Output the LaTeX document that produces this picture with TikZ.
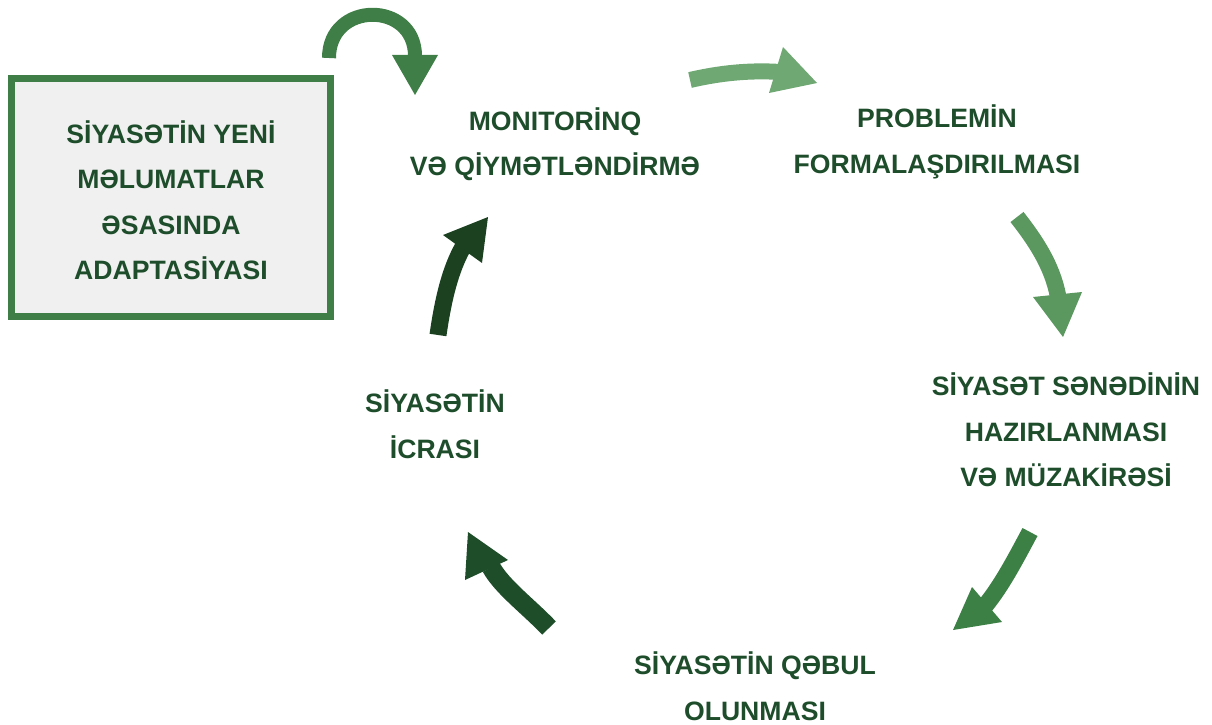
\documentclass[tikz,border=0pt]{standalone}
\usepackage{fontspec}
\setmainfont{Liberation Sans}
\begin{document}
\begin{tikzpicture}[x=1pt,y=-1pt,
  lbl/.style={align=center,text=txtgreen,font=\bfseries\fontsize{26.6}{45.5}\selectfont,inner sep=0pt},
  band/.style={line width=#1,line cap=butt},
]
\definecolor{txtgreen}{HTML}{1E4D2B}
\definecolor{boxgreen}{HTML}{3F7F47}
\definecolor{boxfill}{HTML}{F0F0F0}
\definecolor{arA}{HTML}{3F7F47}
\definecolor{arB}{HTML}{6FA873}
\definecolor{arC}{HTML}{5A985F}
\definecolor{arD}{HTML}{3D8046}
\definecolor{arE}{HTML}{1E4D2A}
\definecolor{arF}{HTML}{1B4121}
\useasboundingbox (0,0) rectangle (1212,725);

% box
\node[draw=boxgreen,line width=7pt,fill=boxfill,minimum width=319pt,minimum height=238pt,inner sep=0pt] (box) at (171,197.5) {};
\node[lbl] (boxt) at (171,200) {SİYASƏTİN YENİ\\MƏLUMATLAR\\ƏSASINDA\\ADAPTASİYASI};

% labels
\node[lbl] (mon) at (555,144) {MONITORİNQ\\VƏ QİYMƏTLƏNDİRMƏ};
\node[lbl] (prob) at (937,142) {PROBLEMİN\\FORMALAŞDIRILMASI};
\node[lbl] (sen) at (1066,430) {SİYASƏT SƏNƏDİNİN\\HAZIRLANMASI\\VƏ MÜZAKİRƏSİ};
\node[lbl] (qeb) at (755,686) {SİYASƏTİN QƏBUL\\OLUNMASI};
\node[lbl] (icr) at (435,424) {SİYASƏTİN\\İCRASI};

% arrow 1: U-turn
\coordinate (a1s) at (329,58);
\coordinate (a1e) at (415,56);
\draw[arA,band=14pt] (a1s) .. controls (329,0.7) and (415,0.7) .. (a1e);
\fill[arA] (392,55) -- (438,55) -- (415,95) -- cycle;

% arrow 2: top
\coordinate (a2s) at (690,80);
\coordinate (a2e) at (780,72);
\draw[arB,band=16pt] (a2s) .. controls (720,73) and (750,70) .. (a2e);
\fill[arB] (783,47) -- (769,93) -- (817,83) -- cycle;

% arrow 3: right
\coordinate (a3s) at (1017,217);
\coordinate (a3e) at (1058,296);
\draw[arC,band=16.5pt] (a3s) .. controls (1035,240) and (1052,265) .. (a3e);
\fill[arC] (1033,297) -- (1082,292) -- (1063,337) -- cycle;

% arrow 4: bottom right
\coordinate (a4s) at (1030,532);
\coordinate (a4e) at (985,606);
\draw[arD,band=17pt] (a4s) .. controls (1015,560) and (1002,585) .. (a4e);
\fill[arD] (972,587) -- (1002,622) -- (953,630) -- cycle;

% arrow 5: bottom left
\coordinate (a5s) at (549,628);
\coordinate (a5e) at (491,567);
\draw[arE,band=19pt] (a5s) .. controls (528,606) and (502,587) .. (a5e);
\fill[arE] (468,532) -- (465,580) -- (508,560) -- cycle;

% arrow 6: left
\coordinate (a6s) at (438,335);
\coordinate (a6e) at (463,247);
\draw[arF,band=17pt] (a6s) .. controls (443,300) and (450,270) .. (a6e);
\fill[arF] (443,235) -- (482,263) -- (488,217) -- cycle;
\end{tikzpicture}
\end{document}
